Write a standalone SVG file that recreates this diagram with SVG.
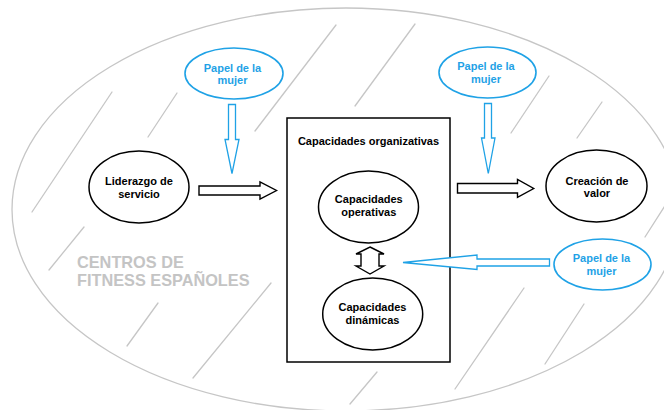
<svg xmlns="http://www.w3.org/2000/svg" width="664" height="410" viewBox="0 0 664 410">
<defs>
<style>
.bg{fill:#ffffff}
.hatch{stroke:#c6c6c6;stroke-width:1.3;fill:none;stroke-linecap:round}
.outer{fill:none;stroke:#c6c6c6;stroke-width:1.3}
.node{fill:#ffffff;stroke:#000000;stroke-width:1.5}
.bnode{fill:#ffffff;stroke:#1fa2e6;stroke-width:1.6}
.t{font-family:"Liberation Sans",Arial,sans-serif;font-weight:bold;font-size:11px;fill:#000000;text-anchor:middle}
.bt{font-family:"Liberation Sans",Arial,sans-serif;font-weight:bold;font-size:11px;fill:#1fa2e6;text-anchor:middle}
.gt{font-family:"Liberation Sans",Arial,sans-serif;font-weight:bold;font-size:16.3px;fill:#c4c4c4}
.barrow{fill:#ffffff;stroke:#000000;stroke-width:1.4;stroke-linejoin:miter}
.blarrow{fill:#ffffff;stroke:#1fa2e6;stroke-width:1.3;stroke-linejoin:miter}
</style>
</defs>
<rect class="bg" x="0" y="0" width="664" height="410"/>
<g id="background">
<ellipse class="outer" cx="346" cy="209.5" rx="334" ry="201.5"/>
<line class="hatch" x1="336" y1="25" x2="255" y2="131"/>
<line class="hatch" x1="415" y1="24" x2="355" y2="106"/>
<line class="hatch" x1="177" y1="93" x2="148" y2="137"/>
<line class="hatch" x1="112" y1="92" x2="32" y2="212"/>
<line class="hatch" x1="84" y1="227" x2="49" y2="270"/>
<line class="hatch" x1="549" y1="76" x2="511" y2="133"/>
<line class="hatch" x1="602" y1="102" x2="577" y2="138"/>
<line class="hatch" x1="668" y1="201" x2="645" y2="237"/>
<line class="hatch" x1="158" y1="303" x2="127" y2="346"/>
<line class="hatch" x1="271" y1="283" x2="193" y2="378"/>
<line class="hatch" x1="377" y1="372" x2="350" y2="404"/>
<line class="hatch" x1="524" y1="288" x2="455" y2="389"/>
<line class="hatch" x1="584" y1="304" x2="545" y2="364"/>
<text class="gt" x="77" y="267.5">CENTROS DE</text>
<text class="gt" x="77" y="286">FITNESS ESPAÑOLES</text>
</g>
<g id="capacidades-organizativas">
<rect class="node" x="287" y="118" width="163" height="244"/>
<text class="t" x="368.5" y="145">Capacidades organizativas</text>
</g>
<g id="liderazgo">
<ellipse class="node" cx="139" cy="187" rx="50" ry="36"/>
<text class="t" x="139" y="185">Liderazgo de</text>
<text class="t" x="139" y="197.5">servicio</text>
</g>
<g id="creacion">
<ellipse class="node" cx="596.5" cy="186" rx="50.5" ry="36"/>
<text class="t" x="597" y="185">Creación de</text>
<text class="t" x="597" y="197">valor</text>
</g>
<g id="operativas">
<ellipse class="node" cx="368.5" cy="207" rx="50" ry="36"/>
<text class="t" x="368.8" y="203">Capacidades</text>
<text class="t" x="368.8" y="216">operativas</text>
</g>
<g id="dinamicas">
<ellipse class="node" cx="372.7" cy="314" rx="50" ry="36"/>
<text class="t" x="372.5" y="311">Capacidades</text>
<text class="t" x="372.5" y="323.5">dinámicas</text>
</g>
<g id="mujer-1">
<ellipse class="bnode" cx="234" cy="73.5" rx="49" ry="25.5"/>
<text class="bt" x="232.5" y="72">Papel de la</text>
<text class="bt" x="232.5" y="84">mujer</text>
</g>
<g id="mujer-2">
<ellipse class="bnode" cx="487.5" cy="72.5" rx="48.5" ry="25.5"/>
<text class="bt" x="486" y="70">Papel de la</text>
<text class="bt" x="486" y="82.5">mujer</text>
</g>
<g id="mujer-3">
<ellipse class="bnode" cx="602.5" cy="264.5" rx="48.5" ry="25.5"/>
<text class="bt" x="601.5" y="262">Papel de la</text>
<text class="bt" x="601.5" y="274.5">mujer</text>
</g>
<g id="connectors">
<path class="barrow" d="M199,186 H260 V182 L276.5,190.5 L260,199 V195 H199 Z"/>
<path class="barrow" d="M457.5,183.5 H517.5 V179.5 L533.7,188.5 L517.5,197.3 V193 H457.5 Z"/>
<path class="barrow" d="M370,247 L384,254 H379 V266 H384 L370,274 L356,266 H361 V254 H356 Z"/>
<path class="blarrow" d="M228.5,104.5 H235.5 V139.5 H239 L232,173.5 L225,139.5 H228.5 Z"/>
<path class="blarrow" d="M484.5,103.5 H491.5 V138 H495 L488.3,173.5 L481.5,138 H484.5 Z"/>
<path class="blarrow" d="M549.5,259 V266 H477 V269.5 L403,262.5 L477,255 V259 Z"/>
</g>
</svg>
